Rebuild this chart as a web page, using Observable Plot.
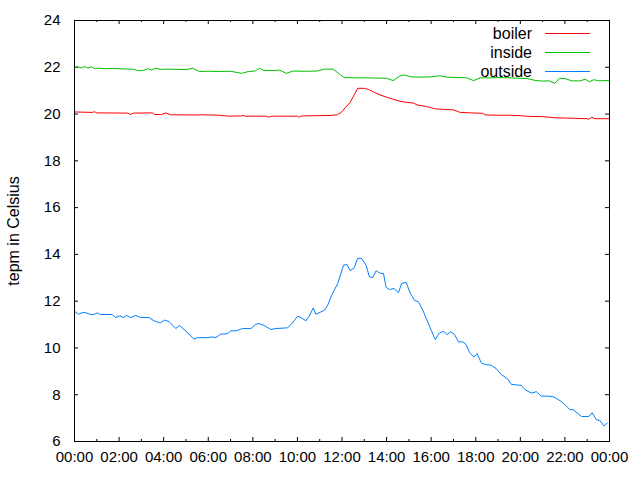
<!DOCTYPE html>
<html>
<head>
<meta charset="utf-8">
<script src="https://cdn.jsdelivr.net/npm/d3@7"></script>
<script src="https://cdn.jsdelivr.net/npm/@observablehq/plot@0.6"></script>
<style>
  html, body { margin: 0; padding: 0; background: #fff; }
</style>
</head>
<body>
<div id="chart"></div>
<script>
// ---- data (hours since midnight, temperature °C) ----
const seriesNames = ["boiler", "inside", "outside"];
const seriesColors = ["#ff0000", "#00c000", "#0080ff"];

const boilerHours = [0.0,0.8,0.9,1.0,2.4,2.5,2.65,3.5,3.6,3.9,4.1,4.3,5.5,5.7,6.5,6.9,7.5,7.55,7.65,8.6,8.7,8.9,10.0,10.05,10.2,11.5,11.8,12.0,12.15,12.35,12.55,12.7,13.0,13.2,13.4,13.7,14.0,14.3,14.6,14.9,15.2,15.4,15.8,16.2,16.6,17.0,17.3,17.8,18.3,18.45,19.0,19.5,20.0,20.4,21.0,21.6,22.4,23.0,23.05,23.2,23.35,24.0];
const boilerTemps = [20.09,20.07,20.1,20.05,20.04,19.98,20.04,20.05,19.98,19.98,20.05,19.97,19.96,19.97,19.95,19.91,19.92,19.95,19.91,19.91,19.87,19.91,19.91,19.87,19.92,19.94,19.97,20.1,20.28,20.48,20.82,21.1,21.1,21.05,20.95,20.82,20.72,20.63,20.55,20.5,20.47,20.38,20.32,20.22,20.2,20.18,20.07,20.05,20.03,19.96,19.95,19.95,19.93,19.9,19.89,19.84,19.82,19.8,19.77,19.86,19.8,19.8];

const insideHours = [0.0,0.15,0.3,0.45,0.6,0.75,0.9,1.1,1.4,1.8,2.2,2.6,2.9,3.1,3.3,3.45,3.65,3.85,4.2,4.6,5.0,5.3,5.6,6.0,6.5,7.0,7.5,7.8,8.1,8.3,8.5,8.9,9.2,9.5,9.8,10.3,10.9,11.2,11.6,11.9,12.1,12.5,13.0,13.5,14.0,14.3,14.6,14.8,15.1,15.5,16.0,16.4,16.7,17.2,17.6,17.9,18.2,18.6,19.0,19.5,19.9,20.3,20.7,21.0,21.3,21.55,21.75,22.0,22.3,22.7,22.9,23.1,23.3,23.5,23.8,24.0];
const insideTemps = [21.98,22.03,21.97,22.04,21.96,22.02,21.95,21.96,21.94,21.95,21.93,21.92,21.85,21.87,21.94,21.88,21.96,21.91,21.92,21.91,21.9,21.96,21.82,21.83,21.82,21.83,21.74,21.82,21.84,21.96,21.86,21.86,21.88,21.74,21.84,21.83,21.84,21.92,21.92,21.7,21.56,21.55,21.55,21.54,21.53,21.43,21.63,21.67,21.59,21.58,21.59,21.64,21.58,21.56,21.55,21.43,21.55,21.55,21.56,21.55,21.53,21.52,21.43,21.41,21.42,21.31,21.53,21.52,21.42,21.42,21.49,21.38,21.47,21.42,21.43,21.43];

const outsideHours = [0.04,0.19,0.34,0.49,0.72,0.87,1.02,1.17,1.69,1.84,2.04,2.19,2.34,2.52,2.74,2.97,3.34,3.57,3.84,4.04,4.24,4.54,4.72,4.91,5.14,5.36,5.51,5.96,6.19,6.34,6.56,6.86,7.01,7.24,7.54,7.91,8.13,8.28,8.51,8.81,9.03,9.56,9.78,10.01,10.16,10.38,10.53,10.71,10.83,11.21,11.36,11.54,11.81,12.07,12.22,12.37,12.55,12.7,12.88,13.08,13.23,13.38,13.53,13.72,13.86,13.98,14.13,14.35,14.53,14.68,14.88,15.05,15.25,15.43,15.63,15.78,16.0,16.18,16.37,16.55,16.72,16.87,17.05,17.23,17.42,17.57,17.72,17.92,18.06,18.25,18.43,18.7,18.92,19.15,19.42,19.6,20.04,20.22,20.49,20.72,20.94,21.24,21.51,21.84,22.07,22.22,22.37,22.74,23.07,23.22,23.41,23.56,23.76,23.9];
const outsideTemps = [11.54,11.44,11.51,11.51,11.43,11.43,11.5,11.43,11.43,11.3,11.37,11.3,11.39,11.3,11.39,11.3,11.3,11.16,11.07,11.19,11.13,10.83,10.96,10.79,10.59,10.37,10.44,10.44,10.47,10.44,10.59,10.61,10.73,10.73,10.83,10.83,11.01,11.04,10.96,10.79,10.83,10.86,11.07,11.36,11.3,11.16,11.36,11.71,11.44,11.61,11.83,12.26,12.76,13.54,13.57,13.3,13.43,13.83,13.83,13.54,13.04,13.01,13.3,13.19,13.19,12.59,12.5,12.54,12.36,12.76,12.8,12.36,12.04,11.97,11.61,11.26,10.76,10.36,10.64,10.71,10.57,10.69,10.57,10.26,10.26,10.14,9.8,9.61,9.76,9.36,9.29,9.26,9.11,8.86,8.69,8.44,8.4,8.21,8.07,8.13,7.94,7.94,7.9,7.71,7.51,7.36,7.36,7.07,7.07,7.23,6.93,6.9,6.66,6.8];

// ---- tick values ----
const xTickHours = [0,2,4,6,8,10,12,14,16,18,20,22,24];
const xTickLabels = ["00:00","02:00","04:00","06:00","08:00","10:00","12:00","14:00","16:00","18:00","20:00","22:00","00:00"];
const xMinorHours = [1,3,5,7,9,11,13,15,17,19,21,23];
const yTicks = [6,8,10,12,14,16,18,20,22,24];
const yLabel = "tepm in Celsius";

// ---- build table ----
function rows(name, hours, temps) {
  return hours.map((h, i) => ({series: name, hour: h, temp: temps[i]}));
}
const data = [
  ...rows("boiler", boilerHours, boilerTemps),
  ...rows("inside", insideHours, insideTemps),
  ...rows("outside", outsideHours, outsideTemps)
];

const W = 640, H = 480;
const mL = 74, mR = 31, mT = 20, mB = 39;
const innerW = W - mL - mR, innerH = H - mT - mB;
const majorLen = 4, minorLen = 2;

// legend rendered as a function mark
function legendMark(index, scales, values, dims) {
  const ns = "http://www.w3.org/2000/svg";
  const g = document.createElementNS(ns, "g");
  g.setAttribute("font-size", "16px");
  const right = dims.width - dims.marginRight;
  seriesNames.forEach((name, i) => {
    const y = dims.marginTop + 13.5 + 19 * i;
    const t = document.createElementNS(ns, "text");
    t.setAttribute("x", right - 77);
    t.setAttribute("y", y);
    t.setAttribute("dy", "0.35em");
    t.setAttribute("text-anchor", "end");
    t.setAttribute("fill", "black");
    t.textContent = name;
    g.appendChild(t);
    const l = document.createElementNS(ns, "line");
    l.setAttribute("x1", right - 64);
    l.setAttribute("x2", right - 19);
    l.setAttribute("y1", y);
    l.setAttribute("y2", y);
    l.setAttribute("stroke", scales.color(name));
    l.setAttribute("stroke-width", 1);
    g.appendChild(l);
  });
  return g;
}

const chart = Plot.plot({
  width: W, height: H,
  marginLeft: mL, marginRight: mR, marginTop: mT, marginBottom: mB,
  style: {fontFamily: "'Liberation Sans', Arial, sans-serif", fontSize: "15px", background: "white", color: "black"},
  x: {domain: [0, 24]},
  y: {domain: [6, 24]},
  color: {domain: seriesNames, range: seriesColors},
  marks: [
    Plot.axisX({ticks: xTickHours, tickSize: 0, tickPadding: 10, tickFormat: (d) => xTickLabels[xTickHours.indexOf(d)], label: null, fill: "black"}),
    Plot.axisY({ticks: yTicks, tickSize: 0, tickPadding: 14, label: null, fill: "black"}),
    Plot.text([yLabel], {frameAnchor: "left", text: (d) => d, rotate: -90, textAnchor: "middle", dx: -61, fontSize: 16, fill: "black"}),
    // inward ticks, bottom & top
    Plot.tickX(xTickHours, {x: (d) => d, insetTop: innerH - majorLen, stroke: "black"}),
    Plot.tickX(xTickHours, {x: (d) => d, insetBottom: innerH - majorLen, stroke: "black"}),
    Plot.tickX(xMinorHours, {x: (d) => d, insetTop: innerH - minorLen, stroke: "black"}),
    Plot.tickX(xMinorHours, {x: (d) => d, insetBottom: innerH - minorLen, stroke: "black"}),
    // inward ticks, left & right
    Plot.tickY(yTicks, {y: (d) => d, insetRight: innerW - majorLen, stroke: "black"}),
    Plot.tickY(yTicks, {y: (d) => d, insetLeft: innerW - majorLen, stroke: "black"}),
    Plot.line(data, {x: "hour", y: "temp", z: "series", stroke: "series", strokeWidth: 1, curve: "linear"}),
    Plot.frame({stroke: "black", strokeWidth: 1}),
    legendMark
  ]
});
document.getElementById("chart").appendChild(chart);
</script>
</body>
</html>
